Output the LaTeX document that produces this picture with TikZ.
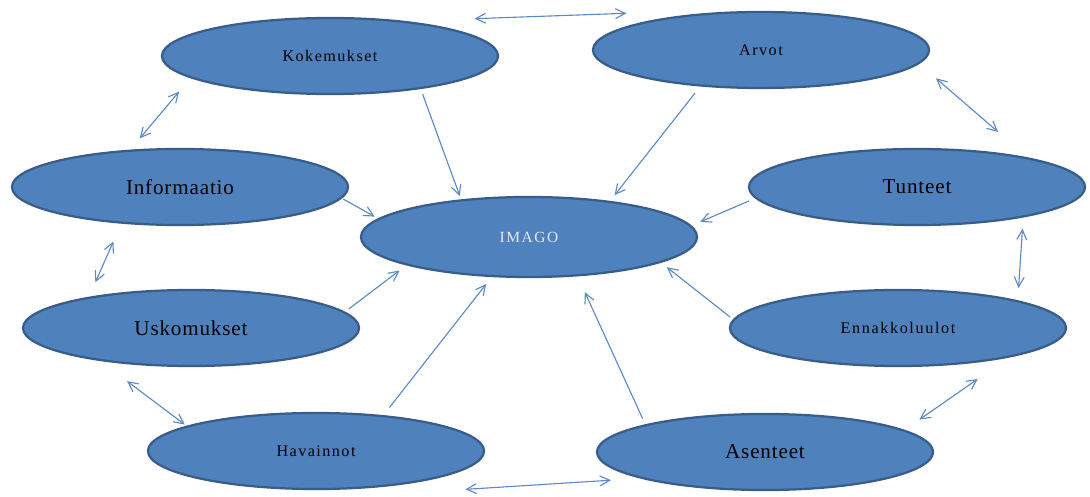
\documentclass[tikz,border=0pt]{standalone}
\usepackage{fontspec}
\setmainfont{Liberation Serif}
\usetikzlibrary{arrows.meta,shapes.geometric}
\definecolor{bubblefill}{HTML}{4F81BD}
\definecolor{bubbleline}{HTML}{385D8A}
\definecolor{linkblue}{HTML}{5A8AC6}
\definecolor{imagotext}{HTML}{E4EBF5}
\newcommand{\bubblebig}{\fontsize{15}{18}\selectfont\addfontfeatures{LetterSpace=4}}
\newcommand{\bubblesmall}{\fontsize{11.5}{14}\selectfont\addfontfeatures{LetterSpace=9}}
\tikzset{
  bubble/.style={ellipse, draw=bubbleline, fill=bubblefill, line width=1.6pt,
                 minimum width=8.4cm, minimum height=1.9cm, inner sep=0pt},
  bigtext/.style={font=\bubblebig},
  smalltext/.style={font=\bubblesmall},
  link/.style={-{Straight Barb[length=7pt,width=7pt]}, draw=linkblue, line width=0.8pt},
  twoway/.style={{Straight Barb[length=7pt,width=7pt]}-{Straight Barb[length=7pt,width=7pt]},
                 draw=linkblue, line width=0.8pt},
}

\begin{document}
\begin{tikzpicture}[x=0.025cm, y=-0.025cm]
\useasboundingbox (0,0) rectangle (1090,497);
%Nodes
\node[bubble, smalltext] (kok) at (330,56) {Kokemukset};
\node[bubble, smalltext] (arvot) at (761,50) {Arvot};
\node[bubble, bigtext] (info) at (180,187) {Informaatio};
\node[bubble, minimum height=2cm, text=imagotext,
      font=\fontsize{11}{13}\selectfont\addfontfeatures{LetterSpace=10}] (imago) at (529,237) {IMAGO};
\node[bubble, bigtext] (tunteet) at (917,187) {Tunteet};
\node[bubble, bigtext] (usko) at (191,328) {Uskomukset};
\node[bubble, font=\fontsize{11.5}{14}\selectfont\addfontfeatures{LetterSpace=10}] (ennak) at (898,328) {Ennakkoluulot};
\node[bubble, smalltext] (hav) at (316,451) {Havainnot};
\node[bubble, bigtext] (asen) at (765,452) {Asenteet};

%Lines
\draw[twoway] ([shift={(0,-17)}]kok.8) -- ([shift={(0,-13)}]arvot.170);
\draw[link, shorten <=4pt, shorten >=2.5pt] (kok.-20) -- (imago.151);
\draw[link, shorten <=5.9pt, shorten >=5.1pt] (arvot.211) -- (imago.24);
\draw[twoway, shorten <=15.7pt, shorten >=27.7pt] (arvot.-5) -- (tunteet.15);
\draw[link, shorten <=4.7pt, shorten >=6.7pt] (tunteet.184) -- (imago.4);
\draw[twoway, shorten <=8pt, shorten >=8.8pt] (tunteet.-16) -- (ennak.13);
\draw[link, shorten <=2.8pt, shorten >=5.2pt] (ennak.177) -- (imago.-11);
\draw[twoway, shorten <=26.7pt, shorten >=12.8pt] (ennak.-15) -- (asen.9);
\draw[link, shorten <=4.5pt, shorten >=12.3pt] (asen.167) -- (imago.-39);
\draw[twoway] ([shift={(0,20)}]hav.-7) -- ([shift={(0,12)}]asen.186);
\draw[link, shorten <=6.9pt, shorten >=6.2pt] (hav.28) -- (imago.227);
\draw[link, shorten <=3.3pt, shorten >=6.1pt] (usko.6) -- (imago.193);
\draw[twoway, shorten <=23.8pt, shorten >=1.6pt] (usko.200) -- (hav.169);
\draw[twoway, shorten <=13.8pt, shorten >=11.3pt] (info.212) -- (usko.163);
\draw[link, shorten <=1pt, shorten >=2.7pt] (info.-4) -- (imago.173);
\draw[twoway, shorten <=10.4pt, shorten >=12.5pt] (info.143) -- (kok.189);
\end{tikzpicture}
\end{document}
